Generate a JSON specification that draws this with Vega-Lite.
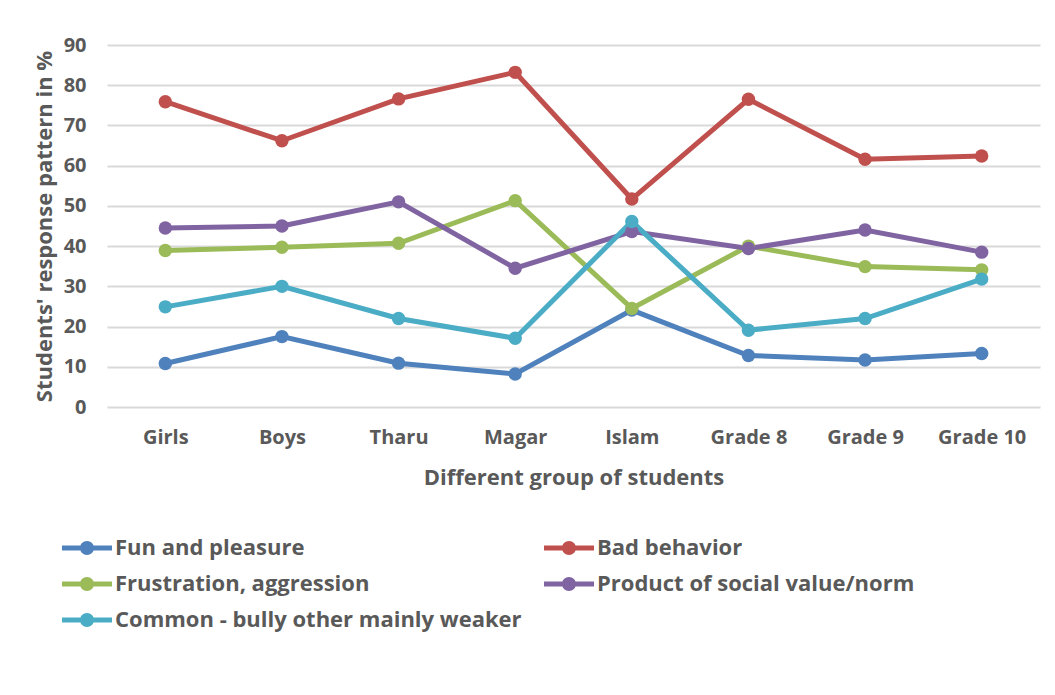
{
  "$schema": "https://vega.github.io/schema/vega-lite/v6.json",
  "width": 933,
  "height": 362,
  "autosize": "none",
  "padding": {"left": 107, "top": 45, "right": 15, "bottom": 288},
  "background": "white",
  "data": {
    "values": [
      {"group": "Girls", "series": "Fun and pleasure", "value": 10.8},
      {"group": "Boys", "series": "Fun and pleasure", "value": 17.5},
      {"group": "Tharu", "series": "Fun and pleasure", "value": 10.9},
      {"group": "Magar", "series": "Fun and pleasure", "value": 8.2},
      {"group": "Islam", "series": "Fun and pleasure", "value": 24.1},
      {"group": "Grade 8", "series": "Fun and pleasure", "value": 12.8},
      {"group": "Grade 9", "series": "Fun and pleasure", "value": 11.7},
      {"group": "Grade 10", "series": "Fun and pleasure", "value": 13.3},
      {"group": "Girls", "series": "Bad behavior", "value": 75.9},
      {"group": "Boys", "series": "Bad behavior", "value": 66.2},
      {"group": "Tharu", "series": "Bad behavior", "value": 76.6},
      {"group": "Magar", "series": "Bad behavior", "value": 83.2},
      {"group": "Islam", "series": "Bad behavior", "value": 51.7},
      {"group": "Grade 8", "series": "Bad behavior", "value": 76.5},
      {"group": "Grade 9", "series": "Bad behavior", "value": 61.6},
      {"group": "Grade 10", "series": "Bad behavior", "value": 62.4},
      {"group": "Girls", "series": "Frustration, aggression", "value": 38.9},
      {"group": "Boys", "series": "Frustration, aggression", "value": 39.7},
      {"group": "Tharu", "series": "Frustration, aggression", "value": 40.7},
      {"group": "Magar", "series": "Frustration, aggression", "value": 51.3},
      {"group": "Islam", "series": "Frustration, aggression", "value": 24.5},
      {"group": "Grade 8", "series": "Frustration, aggression", "value": 40.0},
      {"group": "Grade 9", "series": "Frustration, aggression", "value": 34.9},
      {"group": "Grade 10", "series": "Frustration, aggression", "value": 34.1},
      {"group": "Girls", "series": "Product of social value/norm", "value": 44.5},
      {"group": "Boys", "series": "Product of social value/norm", "value": 45.0},
      {"group": "Tharu", "series": "Product of social value/norm", "value": 51.0},
      {"group": "Magar", "series": "Product of social value/norm", "value": 34.5},
      {"group": "Islam", "series": "Product of social value/norm", "value": 43.6},
      {"group": "Grade 8", "series": "Product of social value/norm", "value": 39.4},
      {"group": "Grade 9", "series": "Product of social value/norm", "value": 44.0},
      {"group": "Grade 10", "series": "Product of social value/norm", "value": 38.5},
      {"group": "Girls", "series": "Common - bully other mainly weaker", "value": 24.9},
      {"group": "Boys", "series": "Common - bully other mainly weaker", "value": 30.0},
      {"group": "Tharu", "series": "Common - bully other mainly weaker", "value": 22.0},
      {"group": "Magar", "series": "Common - bully other mainly weaker", "value": 17.1},
      {"group": "Islam", "series": "Common - bully other mainly weaker", "value": 46.1},
      {"group": "Grade 8", "series": "Common - bully other mainly weaker", "value": 19.1},
      {"group": "Grade 9", "series": "Common - bully other mainly weaker", "value": 22.0},
      {"group": "Grade 10", "series": "Common - bully other mainly weaker", "value": 31.8}
    ]
  },
  "encoding": {
    "x": {
      "field": "group",
      "type": "nominal",
      "sort": ["Girls", "Boys", "Tharu", "Magar", "Islam", "Grade 8", "Grade 9", "Grade 10"],
      "scale": {"type": "point", "padding": 0.5},
      "axis": {
        "title": "Different group of students",
        "labelAngle": 0,
        "domain": false,
        "ticks": false,
        "grid": false,
        "labelPadding": 20,
        "titlePadding": 20
      }
    },
    "y": {
      "field": "value",
      "type": "quantitative",
      "scale": {"domain": [0, 90], "nice": false},
      "axis": {
        "title": "Students' response pattern in %",
        "values": [0, 10, 20, 30, 40, 50, 60, 70, 80, 90],
        "domain": false,
        "ticks": false,
        "grid": true,
        "gridColor": "#D9D9D9",
        "gridWidth": 2,
        "labelPadding": 21,
        "titlePadding": 7
      }
    },
    "color": {
      "field": "series",
      "type": "nominal",
      "scale": {
        "domain": ["Fun and pleasure", "Frustration, aggression", "Common - bully other mainly weaker", "Bad behavior", "Product of social value/norm"],
        "range": ["#4F81BD", "#9BBB59", "#4BACC6", "#C0504D", "#8064A2"]
      },
      "legend": {
        "title": null,
        "orient": "none",
        "legendX": -45,
        "legendY": 478,
        "columns": 2,
        "columnPadding": 22,
        "rowPadding": 0,
        "symbolType": "M-1,-0.1 L1,-0.1 L1,0.1 L-1,0.1 Z M-0.28,0 A0.28,0.28 0 1,1 0.28,0 A0.28,0.28 0 1,1 -0.28,0 Z",
        "symbolSize": 2500,
        "symbolStrokeWidth": 0,
        "labelOffset": 3,
        "labelLimit": 600,
        "encode": {
          "symbols": {"update": {"fill": {"scale": "color", "field": "value"}, "strokeWidth": {"value": 0}, "opacity": {"value": 1}}}
        }
      }
    }
  },
  "layer": [
    {"mark": {"type": "line", "strokeWidth": 5}},
    {"mark": {"type": "point", "filled": true, "size": 180, "opacity": 1}}
  ],
  "config": {
    "view": {"stroke": null},
    "font": "Open Sans",
    "axis": {
      "labelFont": "Open Sans",
      "labelFontWeight": "bold",
      "labelFontSize": 20,
      "labelColor": "#595959",
      "titleFont": "Open Sans",
      "titleFontWeight": "bold",
      "titleFontSize": 22,
      "titleColor": "#595959"
    },
    "legend": {
      "labelFont": "Open Sans",
      "labelFontWeight": "bold",
      "labelFontSize": 22,
      "labelColor": "#595959"
    }
  }
}
